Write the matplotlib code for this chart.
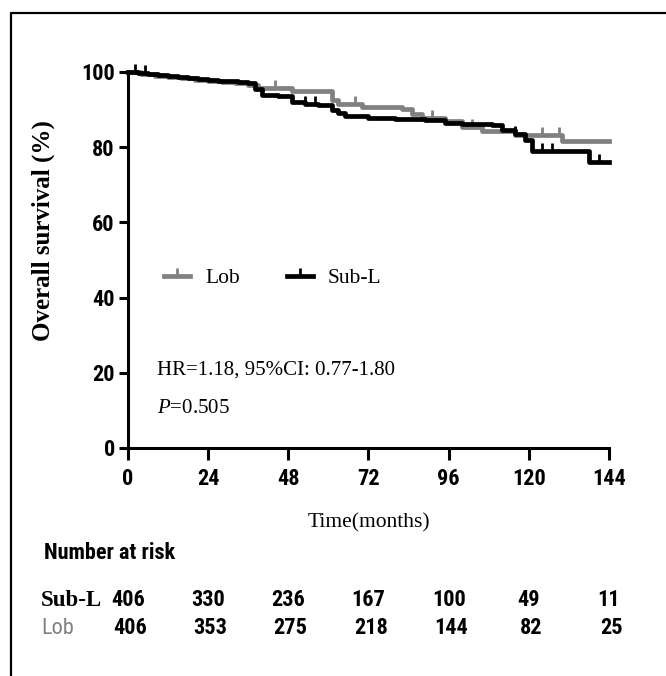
import numpy as np
import matplotlib
matplotlib.use("Agg")
import matplotlib.pyplot as plt
from matplotlib import font_manager as fm
from matplotlib.lines import Line2D
from matplotlib.transforms import blended_transform_factory

plt.rcParams['mathtext.fontset'] = 'custom'
plt.rcParams['mathtext.rm'] = 'Liberation Serif'
plt.rcParams['mathtext.it'] = 'Liberation Serif:italic'

# pick a narrow sans if one is installed (the reference uses an Arial Narrow look)
fonts = fm.fontManager.ttflist
names = {f.name for f in fonts}
stretch = 'normal'
if 'Liberation Sans Narrow' in names:
    narrow = ['Liberation Sans Narrow', 'DejaVu Sans']
elif 'Roboto Condensed' in names:
    narrow = ['Roboto Condensed', 'DejaVu Sans']
elif any(f.name == 'DejaVu Sans' and 'condensed' in str(f.stretch) for f in fonts):
    narrow = ['DejaVu Sans']
    stretch = 'condensed'
else:
    narrow = ['Liberation Sans', 'DejaVu Sans']
serif = ['Liberation Serif', 'DejaVu Serif']

# Kaplan-Meier steps (months, % surviving)
sub_t = [0, 3, 6, 9, 12, 15, 18, 21, 24, 27, 30, 33, 36, 38, 40, 45, 49, 53, 57, 61, 63, 65,
         72, 80, 89, 95, 100, 109, 112, 116, 119, 121, 138, 144]
sub_s = [100, 99.7, 99.4, 99.2, 98.9, 98.7, 98.4, 98.2, 98.0, 97.7, 97.5, 97.3, 97.0, 95.5, 94.0,
         93.6, 92.0, 91.5, 91.1, 89.8, 89.0, 88.2, 87.8, 87.6, 87.1, 86.5, 86.2, 86.0, 84.5, 83.5,
         81.8, 78.9, 76.1, 76.1]
lob_t = [0, 4, 8, 12, 16, 20, 24, 28, 32, 36, 39, 49, 61, 63, 70, 82, 85, 88, 95, 100, 106,
         116, 130, 144]
lob_s = [100, 99.5, 99.0, 98.7, 98.4, 98.0, 97.6, 97.3, 97.0, 96.6, 95.8, 94.9, 92.5, 91.6,
         90.8, 90.2, 88.7, 87.8, 87.0, 85.5, 84.2, 83.2, 81.7, 81.7]
sub_cens = [2, 5, 53, 56, 116, 124, 127, 141]
lob_cens = [44, 68, 91, 103, 124, 129]

risk_times = [0, 24, 48, 72, 96, 120, 144]
risk_sub = [406, 330, 236, 167, 100, 49, 11]
risk_lob = [406, 353, 275, 218, 144, 82, 25]


def at(times, surv, c):
    i = np.searchsorted(times, c, side='right') - 1
    return surv[i]


fig = plt.figure(figsize=(6.66, 6.76), dpi=100)
ax = fig.add_axes([0.1922, 0.3373, 0.7222, 0.5562])

gray = '#808080'
ax.step(lob_t, lob_s, where='post', color=gray, lw=3.4, clip_on=False, zorder=3)
ax.plot(lob_cens, [at(lob_t, lob_s, c) for c in lob_cens], ls='none', marker=2,
        ms=6, mew=2, color=gray, clip_on=False, zorder=3)
ax.step(sub_t, sub_s, where='post', color='black', lw=3.4, clip_on=False, zorder=4)
ax.plot(sub_cens, [at(sub_t, sub_s, c) for c in sub_cens], ls='none', marker=2,
        ms=6, mew=2, color='black', clip_on=False, zorder=4)

ax.set_xlim(0, 144)
ax.set_ylim(0, 100)
ax.set_xticks(risk_times)
ax.set_yticks([0, 20, 40, 60, 80, 100])
for sp in ['top', 'right']:
    ax.spines[sp].set_visible(False)
for sp in ['left', 'bottom']:
    ax.spines[sp].set_linewidth(2.2)
ax.tick_params(axis='both', width=2.2, direction='out', labelsize=16)
ax.tick_params(axis='x', length=8.5, pad=6)
ax.tick_params(axis='y', length=6.5, pad=3)
for lab in ax.get_xticklabels() + ax.get_yticklabels():
    lab.set_family(narrow)
    lab.set_stretch(stretch)
    lab.set_weight('bold')

ax.set_ylabel('Overall survival (%)', family=serif, weight='bold', fontsize=18, va='center')
ax.yaxis.set_label_coords(-0.177, 0.577)
ax.set_xlabel('Time(months)', family=serif, fontsize=15.5, va='center')
ax.xaxis.set_label_coords(0.5, -0.2)

handles = [Line2D([], [], color=gray, lw=3.4, marker=2, ms=6, mew=2),
           Line2D([], [], color='black', lw=3.4, marker=2, ms=6, mew=2)]
ax.legend(handles, ['Lob', 'Sub-L'], loc='center left', bbox_to_anchor=(0.075, 0.452),
          ncol=2, frameon=False, prop={'family': serif, 'size': 15.5}, handlelength=1.2,
          handletextpad=0.7, columnspacing=2.2, borderpad=0, borderaxespad=0)

ax.text(0.061, 0.206, 'HR=1.18, 95%CI: 0.77-1.80', transform=ax.transAxes,
        family=serif, fontsize=15, va='center')
ax.text(0.061, 0.106, r'$\it{P}$=0.505', transform=ax.transAxes,
        family=serif, fontsize=15, va='center')

# number at risk table
fig.text(0.066, 0.182, 'Number at risk', family=narrow, stretch=stretch, weight='bold',
         fontsize=16, va='center')
fig.text(0.062, 0.1124, 'Sub-L', family=serif, weight='bold', fontsize=16.5, va='center')
fig.text(0.062, 0.0710, 'Lob', family=narrow, stretch=stretch, color=gray, fontsize=16,
         va='center')
tr = blended_transform_factory(ax.transData, fig.transFigure)
for t, a, b in zip(risk_times, risk_sub, risk_lob):
    ax.text(t, 0.1124, str(a), transform=tr, ha='center', va='center', family=narrow,
            stretch=stretch, weight='bold', fontsize=16, clip_on=False)
    ax.text(t + 0.7, 0.0710, str(b), transform=tr, ha='center', va='center', family=narrow,
            stretch=stretch, weight='bold', fontsize=16, clip_on=False)

# outer frame (cropped on the right and bottom)
fig.add_artist(Line2D([0.0165, 0.0165, 1.0], [0.0, 0.9808, 0.9808],
                      transform=fig.transFigure, color='black', lw=1.6))

fig.savefig('out.png', dpi=100)
